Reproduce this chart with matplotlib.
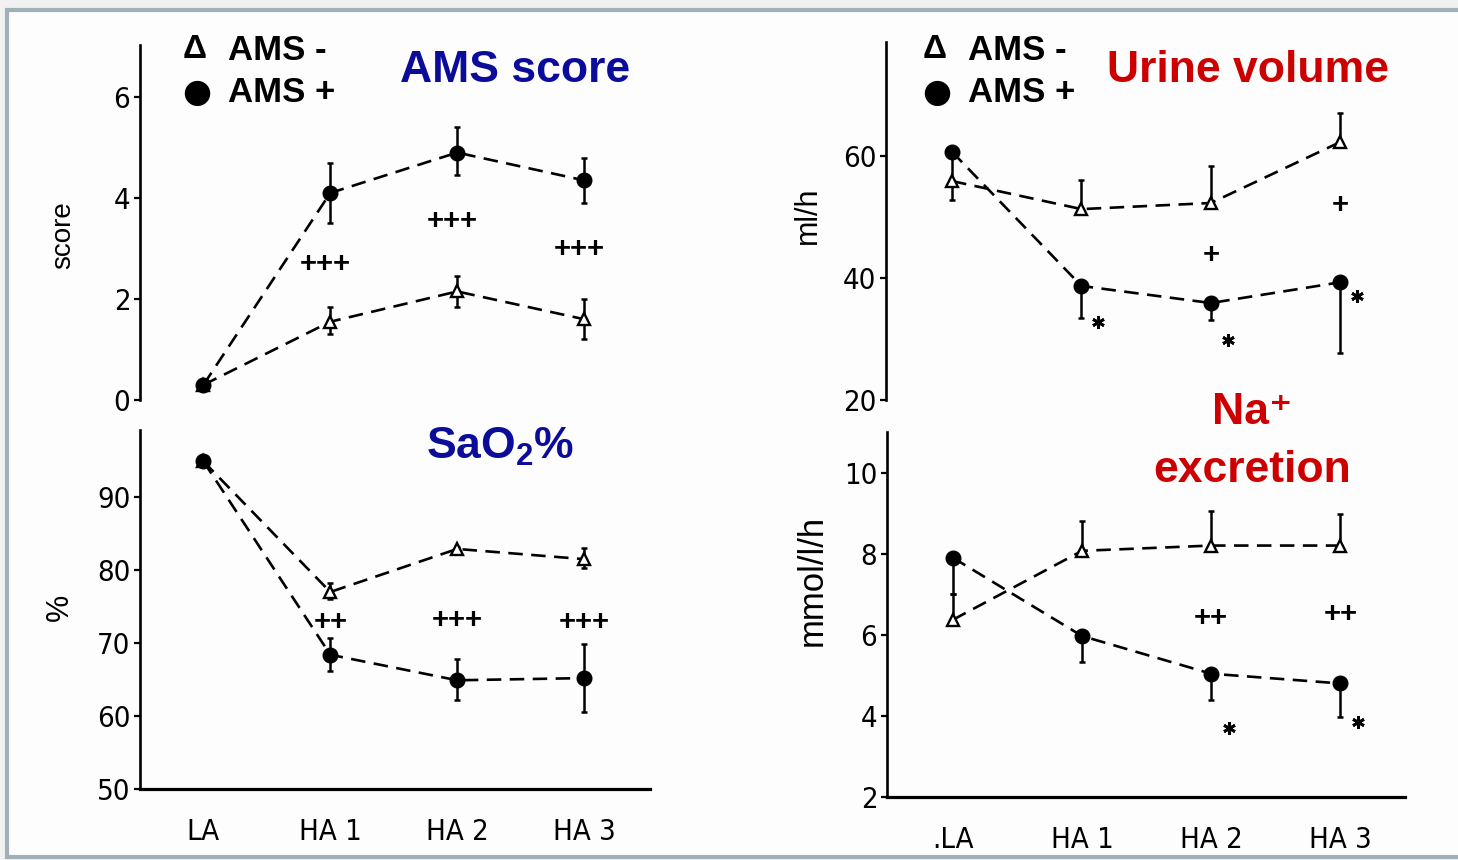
import numpy as np
import matplotlib.pyplot as plt
from matplotlib.patches import Rectangle

W, H = 1458, 860

# categories
stages = ['LA', 'HA 1', 'HA 2', 'HA 3']
stages_na = ['.LA', 'HA 1', 'HA 2', 'HA 3']

# AMS score (top left)
score_neg = [0.3, 1.55, 2.15, 1.6]
score_neg_lo = [0, 0.25, 0.3, 0.4]
score_neg_hi = [0, 0.3, 0.3, 0.4]
score_pos = [0.3, 4.1, 4.9, 4.35]
score_pos_lo = [0, 0.6, 0.45, 0.45]
score_pos_hi = [0, 0.6, 0.5, 0.45]
score_sig = ['+++', '+++', '+++']
score_sig_y = [2.7, 3.55, 3.0]

# SaO2 % (bottom left)
sao2_neg = [94.9, 77.0, 82.9, 81.5]
sao2_neg_lo = [0, 1.0, 0, 1.2]
sao2_neg_hi = [0, 1.2, 0.3, 1.5]
sao2_pos = [94.9, 68.4, 64.9, 65.2]
sao2_pos_lo = [0, 2.2, 2.7, 4.6]
sao2_pos_hi = [0, 2.3, 2.9, 4.7]
sao2_sig = ['++', '+++', '+++']
sao2_sig_y = [72.9, 73.1, 72.9]

# Urine volume ml/h (top right)
urine_neg = [55.9, 51.3, 52.3, 62.3]
urine_neg_lo = [3.1, 0, 0, 0]
urine_neg_hi = [0, 4.8, 6.1, 4.7]
urine_pos = [60.7, 38.7, 35.9, 39.3]
urine_pos_lo = [4.8, 5.3, 2.8, 11.6]
urine_pos_hi = [0, 0, 0, 0]
urine_sig = ['+', '+']
urine_sig_y = [43.8, 52.0]
urine_star_y = [32.8, 29.8, 37.0]

# Na+ excretion mmol/l/h (bottom right)
na_neg = [6.37, 8.07, 8.2, 8.2]
na_neg_lo = [0, 0, 0, 0]
na_neg_hi = [0.63, 0.73, 0.86, 0.79]
na_pos = [7.9, 5.97, 5.04, 4.8]
na_pos_lo = [0.9, 0.64, 0.64, 0.82]
na_pos_hi = [0, 0, 0, 0]
na_sig = ['++', '++']
na_sig_y = [6.42, 6.5]
na_star_y = [3.7, 3.85]

x = np.arange(len(stages))
plt.rcParams['font.family'] = ['Liberation Sans', 'DejaVu Sans']
plt.rcParams['mathtext.fontset'] = 'custom'
plt.rcParams['mathtext.rm'] = 'Liberation Sans:bold'
plt.rcParams['mathtext.default'] = 'rm'

fig = plt.figure(figsize=(W / 100, H / 100), dpi=100, facecolor='#f1f1f1')
fig.patches.append(Rectangle((7 / W, 3 / H), 1.2, 1 - 13 / H, transform=fig.transFigure,
                             facecolor='#fdfdfd', edgecolor='#9fb0b8', lw=3, zorder=-5))


def px(xp, yp):
    return xp / W, 1 - yp / H


def tick_font(lab):
    lab.set_family('DejaVu Sans')
    lab.set_stretch('condensed')


def make_ax(l, t, r, b, ylim, yticks, xlim, bottom_axis, labels=None):
    ax = fig.add_axes([l / W, 1 - b / H, (r - l) / W, (b - t) / H])
    ax.set_facecolor('none')
    ax.set_xlim(*xlim)
    ax.set_ylim(*ylim)
    ax.set_yticks(yticks)
    for s in ['top', 'right']:
        ax.spines[s].set_visible(False)
    ax.spines['left'].set_linewidth(1.9)
    ax.tick_params(axis='y', direction='out', length=4, width=1.6, pad=3, labelsize=21)
    for lab in ax.get_yticklabels():
        tick_font(lab)
    if bottom_axis:
        ax.spines['bottom'].set_linewidth(2.3)
        ax.set_xticks(x)
        ax.set_xticklabels(labels, fontsize=21)
        for lab in ax.get_xticklabels():
            tick_font(lab)
        ax.tick_params(axis='x', length=0, pad=21)
    else:
        ax.spines['bottom'].set_visible(False)
        ax.set_xticks([])
    return ax


def draw(ax, neg, neg_lo, neg_hi, pos, pos_lo, pos_hi):
    dash = (0, (5.5, 3.2))
    ax.errorbar(x, neg, yerr=[neg_lo, neg_hi], fmt='none', ecolor='black',
                elinewidth=1.8, capsize=2.5, capthick=1.8, zorder=2)
    ax.errorbar(x, pos, yerr=[pos_lo, pos_hi], fmt='none', ecolor='black',
                elinewidth=1.8, capsize=2.5, capthick=1.8, zorder=2)
    ax.plot(x, neg, ls=dash, lw=1.9, color='black', marker='^', ms=8.5,
            mfc='white', mec='black', mew=1.7, zorder=3)
    ax.plot(x, pos, ls=dash, lw=1.9, color='black', marker='o', ms=10.5,
            mfc='black', mec='black', zorder=4)


def sig(ax, xs, ys, texts):
    for xi, yi, t in zip(xs, ys, texts):
        ax.text(xi, yi, t, ha='center', va='center', fontsize=21, fontweight='bold')


# top left: AMS score
ax1 = make_ax(140, 45, 650, 400, (0, 7.03), [0, 2, 4, 6], (-0.5, 3.52), False)
draw(ax1, score_neg, score_neg_lo, score_neg_hi, score_pos, score_pos_lo, score_pos_hi)
sig(ax1, x[1:] - 0.04, score_sig_y, score_sig)

# bottom left: SaO2
ax2 = make_ax(140, 430, 650, 789, (50, 99.2), [50, 60, 70, 80, 90], (-0.5, 3.52), True, stages)
draw(ax2, sao2_neg, sao2_neg_lo, sao2_neg_hi, sao2_pos, sao2_pos_lo, sao2_pos_hi)
sig(ax2, x[1:], sao2_sig_y, sao2_sig)

# top right: urine volume
ax3 = make_ax(886, 42, 1405, 400, (20, 78.7), [20, 40, 60], (-0.51, 3.5), False)
draw(ax3, urine_neg, urine_neg_lo, urine_neg_hi, urine_pos, urine_pos_lo, urine_pos_hi)
sig(ax3, x[2:], urine_sig_y, urine_sig)
ax3.plot(x[1:] + 0.13, urine_star_y, ls='none', marker=(6, 2, 0), ms=9, mew=2, color='black')

# bottom right: Na+ excretion
ax4 = make_ax(887, 432, 1405, 797, (2, 11.0), [2, 4, 6, 8, 10], (-0.51, 3.5), True, stages_na)
draw(ax4, na_neg, na_neg_lo, na_neg_hi, na_pos, na_pos_lo, na_pos_hi)
sig(ax4, x[2:], na_sig_y, na_sig)
ax4.plot(x[2:] + 0.14, na_star_y, ls='none', marker=(6, 2, 0), ms=9, mew=2, color='black')

# axis labels
fig.text(*px(63, 235), 'score', rotation=90, ha='center', va='center', fontsize=20)
fig.text(*px(60, 607), '%', rotation=90, ha='center', va='center', fontsize=22)
fig.text(*px(808, 215), 'ml/h', rotation=90, ha='center', va='center', fontsize=22)
fig.text(*px(812, 580), 'mmol/l/h', rotation=90, ha='center', va='center', fontsize=25)

# legends
for lx in (195, 935):
    fig.text(*px(lx, 50), '\u0394', ha='center', va='center', fontsize=24, fontweight='bold')
    fig.text(*px(lx + 33, 50), 'AMS -', ha='left', va='center', fontsize=25, fontweight='bold')
    fig.text(*px(lx + 2, 92), '\u25cf', ha='center', va='center', fontsize=24,
             family=['DejaVu Sans'])
    fig.text(*px(lx + 33, 92), 'AMS +', ha='left', va='center', fontsize=25, fontweight='bold')

# panel titles
blue, red = '#0c0c9a', '#cc0000'
fig.text(*px(515, 70), 'AMS score', ha='center', va='center', fontsize=32, fontweight='bold', color=blue)
fig.text(*px(500, 447), 'SaO$_2$%', ha='center', va='center', fontsize=32, fontweight='bold', color=blue)
fig.text(*px(1248, 70), 'Urine volume', ha='center', va='center', fontsize=32, fontweight='bold', color=red)
fig.text(*px(1252, 412), 'Na\u207a', ha='center', va='center', fontsize=32, fontweight='bold', color=red)
fig.text(*px(1252, 470), 'excretion', ha='center', va='center', fontsize=32, fontweight='bold', color=red)

fig.savefig('out.png', dpi=100, facecolor=fig.get_facecolor())
